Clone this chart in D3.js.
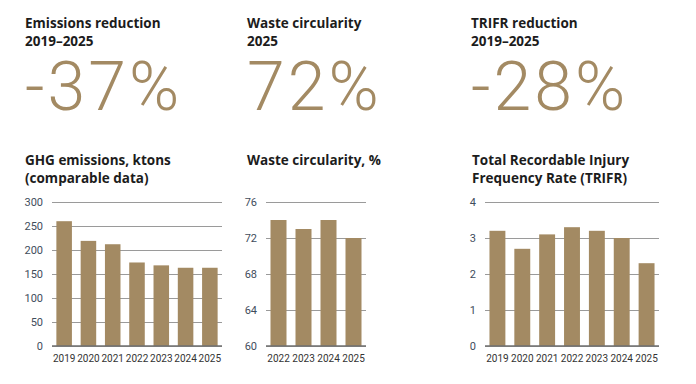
<!DOCTYPE html>
<html>
<head>
<meta charset="utf-8">
<script src="https://cdn.jsdelivr.net/npm/d3@7"></script>
<style>
body { margin: 0; background: #fff; font-family: Roboto, "Liberation Sans", sans-serif; }
svg text { font-family: Roboto, "Liberation Sans", sans-serif; }
svg text.title { font-family: "Open Sans", Roboto, sans-serif; }
</style>
</head>
<body>
<script>
// headline figures
var kpiTitles = [["Emissions reduction", "2019\u20132025"], ["Waste circularity", "2025"], ["TRIFR reduction", "2019\u20132025"]];
var kpiValues = ["-37%", "72%", "-28%"];

// GHG emissions, ktons
var ghgYears = ["2019", "2020", "2021", "2022", "2023", "2024", "2025"];
var ghgValues = [260, 219, 212, 174, 168, 163, 163];
var ghgTicks = [0, 50, 100, 150, 200, 250, 300];

// Waste circularity, %
var wasteYears = ["2022", "2023", "2024", "2025"];
var wasteValues = [74, 73, 74, 72];
var wasteTicks = [60, 64, 68, 72, 76];

// TRIFR
var trifrYears = ["2019", "2020", "2021", "2022", "2023", "2024", "2025"];
var trifrValues = [3.2, 2.7, 3.1, 3.3, 3.2, 3.0, 2.3];
var trifrTicks = [0, 1, 2, 3, 4];

var gold = "#a38a63";
var width = 696, height = 384;

var svg = d3.select("body").append("svg")
    .attr("width", width)
    .attr("height", height);

// headline blocks
var kpiX = [25, 247, 471];
kpiTitles.forEach(function(lines, i) {
    var t = svg.append("text")
        .attr("class", "title")
        .attr("x", kpiX[i])
        .attr("y", 28)
        .attr("font-size", "13.5px")
        .attr("font-weight", 700)
        .attr("fill", "#1c1c1c");
    lines.forEach(function(l, j) {
        t.append("tspan").attr("x", kpiX[i]).attr("dy", j == 0 ? 0 : 18).text(l);
    });
    svg.append("text")
        .attr("x", kpiX[i])
        .attr("y", 110)
        .attr("font-size", "68px")
        .attr("font-weight", 300)
        .attr("letter-spacing", "3px")
        .attr("fill", gold)
        .text(kpiValues[i]);
});

function barChart(opt) {
    var g = svg.append("g");

    var title = g.append("text")
        .attr("class", "title")
        .attr("x", opt.titleX)
        .attr("y", 165)
        .attr("font-size", "13.5px")
        .attr("font-weight", 700)
        .attr("fill", "#1c1c1c");
    opt.title.forEach(function(l, j) {
        title.append("tspan").attr("x", opt.titleX).attr("dy", j == 0 ? 0 : 18).text(l);
    });

    var x = d3.scaleBand()
        .domain(opt.years)
        .range([opt.x0, opt.x1])
        .paddingInner(0.36)
        .paddingOuter(0.18);

    var y = d3.scaleLinear()
        .domain([opt.ticks[0], opt.ticks[opt.ticks.length - 1]])
        .range([346, 202]);

    // gridlines + tick labels
    var yAxis = d3.axisLeft(y)
        .tickValues(opt.ticks)
        .tickFormat(d3.format("d"))
        .tickSize(-(opt.x1 - opt.x0))
        .tickPadding(9);
    var ga = g.append("g")
        .attr("transform", "translate(" + opt.x0 + ",0)")
        .call(yAxis);
    ga.select(".domain").remove();
    ga.selectAll(".tick line")
        .attr("stroke", "#9a9a9a")
        .attr("stroke-width", 1.2);
    ga.selectAll(".tick text")
        .attr("font-size", "11px")
        .attr("fill", "#3f4d5c");

    g.selectAll("rect")
        .data(opt.values)
        .enter()
        .append("rect")
        .attr("x", function(d, i) { return x(opt.years[i]); })
        .attr("y", function(d) { return y(d); })
        .attr("width", x.bandwidth())
        .attr("height", function(d) { return y(opt.ticks[0]) - y(d); })
        .attr("fill", gold);

    // baseline
    g.append("line")
        .attr("x1", opt.x0).attr("x2", opt.x1)
        .attr("y1", y(opt.ticks[0])).attr("y2", y(opt.ticks[0]))
        .attr("stroke", "#6f6f6f")
        .attr("stroke-width", 1.3);

    var xAxis = d3.axisBottom(x).tickSize(0).tickPadding(9);
    var gx = g.append("g")
        .attr("transform", "translate(0," + y(opt.ticks[0]) + ")")
        .call(xAxis);
    gx.select(".domain").remove();
    gx.selectAll(".tick text")
        .attr("font-size", "10px")
        .attr("fill", "#333");
}

barChart({
    title: ["GHG emissions, ktons", "(comparable data)"],
    titleX: 25, x0: 52, x1: 222,
    years: ghgYears, values: ghgValues, ticks: ghgTicks
});
barChart({
    title: ["Waste circularity, %"],
    titleX: 247, x0: 266, x1: 366,
    years: wasteYears, values: wasteValues, ticks: wasteTicks
});
barChart({
    title: ["Total Recordable Injury", "Frequency Rate (TRIFR)"],
    titleX: 472, x0: 485, x1: 659,
    years: trifrYears, values: trifrValues, ticks: trifrTicks
});
</script>
</body>
</html>
